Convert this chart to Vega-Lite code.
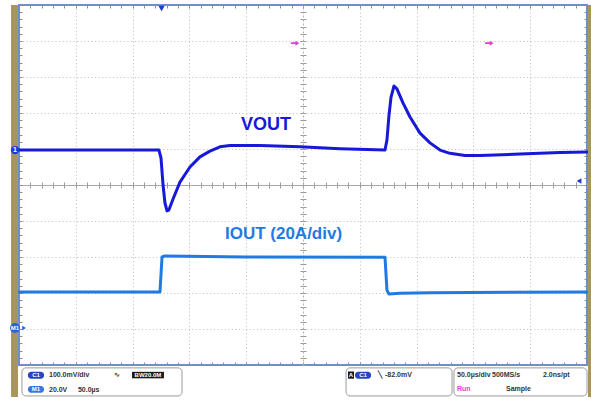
{
  "$schema": "https://vega.github.io/schema/vega-lite/v6.json",
  "width": 568,
  "height": 360,
  "autosize": {"type": "none"},
  "padding": {"left": 19, "top": 5, "right": 4, "bottom": 36},
  "background": "white",
  "config": {
    "view": {"stroke": "#6d8fd2", "strokeWidth": 2},
    "font": "Liberation Sans",
    "axis": {"labels": false, "title": null}
  },
  "datasets": {
    "waves": [
      {"s": "VOUT", "t": 0, "v": 0.97}, {"s": "VOUT", "t": 123.2, "v": 0.97}, {"s": "VOUT", "t": 125.0, "v": 0.75},
      {"s": "VOUT", "t": 126.8, "v": 0.0}, {"s": "VOUT", "t": 128.5, "v": -0.5}, {"s": "VOUT", "t": 130.3, "v": -0.72},
      {"s": "VOUT", "t": 132.0, "v": -0.69}, {"s": "VOUT", "t": 135.6, "v": -0.39}, {"s": "VOUT", "t": 141.7, "v": 0.08},
      {"s": "VOUT", "t": 150.5, "v": 0.5}, {"s": "VOUT", "t": 159.3, "v": 0.78}, {"s": "VOUT", "t": 168.1, "v": 0.94},
      {"s": "VOUT", "t": 176.9, "v": 1.06}, {"s": "VOUT", "t": 185.7, "v": 1.1}, {"s": "VOUT", "t": 212.1, "v": 1.1},
      {"s": "VOUT", "t": 247.4, "v": 1.06}, {"s": "VOUT", "t": 282.6, "v": 1.01}, {"s": "VOUT", "t": 322.2, "v": 0.97},
      {"s": "VOUT", "t": 323.9, "v": 1.25}, {"s": "VOUT", "t": 325.7, "v": 1.94}, {"s": "VOUT", "t": 327.5, "v": 2.44},
      {"s": "VOUT", "t": 330.1, "v": 2.75}, {"s": "VOUT", "t": 332.7, "v": 2.67}, {"s": "VOUT", "t": 338.0, "v": 2.28},
      {"s": "VOUT", "t": 344.2, "v": 1.89}, {"s": "VOUT", "t": 353.0, "v": 1.44}, {"s": "VOUT", "t": 361.8, "v": 1.17},
      {"s": "VOUT", "t": 370.6, "v": 0.97}, {"s": "VOUT", "t": 379.4, "v": 0.88}, {"s": "VOUT", "t": 392.6, "v": 0.82},
      {"s": "VOUT", "t": 405.8, "v": 0.82}, {"s": "VOUT", "t": 441.0, "v": 0.86}, {"s": "VOUT", "t": 476.2, "v": 0.9},
      {"s": "VOUT", "t": 500, "v": 0.92},
      {"s": "IOUT", "t": 0, "v": -2.97}, {"s": "IOUT", "t": 124.1, "v": -2.97}, {"s": "IOUT", "t": 125.9, "v": -2.0},
      {"s": "IOUT", "t": 128.5, "v": -1.97}, {"s": "IOUT", "t": 200, "v": -2.0}, {"s": "IOUT", "t": 322.2, "v": -2.01},
      {"s": "IOUT", "t": 323.9, "v": -2.92}, {"s": "IOUT", "t": 325.7, "v": -3.03}, {"s": "IOUT", "t": 335.4, "v": -3.01},
      {"s": "IOUT", "t": 361.8, "v": -2.99}, {"s": "IOUT", "t": 500, "v": -2.97}
    ],
    "labels": [
      {"s": "VOUT", "t": 195.4, "v": 1.67, "label": "VOUT"},
      {"s": "IOUT", "t": 181.3, "v": -1.36, "label": "IOUT  (20A/div)"}
    ],
    "tan": [
      {"t": -7.0, "t2": -0.9, "v": 5.0, "v2": -5.89},
      {"t": 500.9, "t2": 504, "v": 5.0, "v2": -5.89}
    ],
    "boxes": [
      {"t": 2.6, "t2": 143.5, "v": -5.08, "v2": -5.86},
      {"t": 287.9, "t2": 381.2, "v": -5.08, "v2": -5.86},
      {"t": 382.9, "t2": 500, "v": -5.08, "v2": -5.86}
    ],
    "pillsDark": [
      {"t": 7.9, "t2": 22.0, "v": -5.19, "v2": -5.38},
      {"t": 295.8, "t2": 309.9, "v": -5.19, "v2": -5.38}
    ],
    "pillsLight": [
      {"t": 7.9, "t2": 22.0, "v": -5.58, "v2": -5.77}
    ],
    "blackBoxes": [
      {"t": 99.5, "t2": 127.6, "v": -5.19, "v2": -5.37},
      {"t": 289.6, "t2": 294.9, "v": -5.18, "v2": -5.38}
    ],
    "whiteText": [
      {"t": 15, "v": -5.285, "label": "C1"},
      {"t": 302.8, "v": -5.285, "label": "C1"},
      {"t": 15, "v": -5.675, "label": "M1"},
      {"t": 113.5, "v": -5.28, "label": "BW20.0M"},
      {"t": 292.2, "v": -5.28, "label": "A"}
    ],
    "statusText": [
      {"t": 26.4, "v": -5.28, "label": "100.0mV/div"},
      {"t": 83.6, "v": -5.28, "label": "∿"},
      {"t": 26.4, "v": -5.69, "label": "20.0V"},
      {"t": 51.9, "v": -5.69, "label": "50.0µs"},
      {"t": 316.0, "v": -5.28, "label": "╲"},
      {"t": 322.2, "v": -5.28, "label": "-82.0mV"},
      {"t": 385.6, "v": -5.28, "label": "50.0µs/div"},
      {"t": 416.4, "v": -5.28, "label": "500MS/s"},
      {"t": 461.3, "v": -5.28, "label": "2.0ns/pt"},
      {"t": 428.7, "v": -5.67, "label": "Sample"}
    ],
    "runText": [
      {"t": 385.6, "v": -5.67, "label": "Run"}
    ],
    "chMarkers": [
      {"t": -3.5, "v": 0.97, "label": "1"}
    ],
    "mMarkers": [
      {"t": -3.5, "v": -3.97, "label": "M1"}
    ],
    "trigTop": [{"t": 125.5, "v": 4.9}],
    "trigLevel": [{"t": 493, "v": 0.11}],
    "mArrow": [{"t": 4.5, "v": -3.97}],
    "cursors": [{"t": 243, "v": 3.94}, {"t": 414, "v": 3.94}]
  },
  "resolve": {"axis": {"x": "independent", "y": "independent"}},
  "layer": [
    {
      "data": {"name": "waves"},
      "mark": {"type": "point", "opacity": 0},
      "encoding": {
        "x": {"field": "t", "type": "quantitative", "scale": {"domain": [0, 500], "nice": false, "zero": false},
          "axis": {"orient": "bottom", "values": [50, 100, 150, 200, 300, 350, 400, 450], "grid": true, "gridColor": "#bdbdbd", "gridDash": [1, 2.6], "gridWidth": 1, "ticks": false, "labels": false, "domain": false, "title": null}},
        "y": {"field": "v", "type": "quantitative", "scale": {"domain": [-5, 5], "nice": false, "zero": false},
          "axis": {"orient": "left", "values": [-4, -3, -2, -1, 1, 2, 3, 4], "grid": true, "gridColor": "#bdbdbd", "gridDash": [1, 2.6], "gridWidth": 1, "ticks": false, "labels": false, "domain": false, "title": null}}
      }
    },
    {
      "data": {"name": "waves"},
      "mark": {"type": "point", "opacity": 0},
      "encoding": {
        "x": {"field": "t", "type": "quantitative", "scale": {"domain": [0, 500], "nice": false, "zero": false},
          "axis": {"orient": "top", "offset": -360, "values": [0,10,20,30,40,50,60,70,80,90,100,110,120,130,140,150,160,170,180,190,200,210,220,230,240,250,260,270,280,290,300,310,320,330,340,350,360,370,380,390,400,410,420,430,440,450,460,470,480,490,500], "tickSize": 3, "tickColor": "#8c8c8c", "grid": false, "labels": false, "domain": false, "title": null}},
        "y": {"field": "v", "type": "quantitative", "scale": {"domain": [-5, 5], "nice": false, "zero": false},
          "axis": {"orient": "right", "offset": -568, "values": [-5,-4.8,-4.6,-4.4,-4.2,-4,-3.8,-3.6,-3.4,-3.2,-3,-2.8,-2.6,-2.4,-2.2,-2,-1.8,-1.6,-1.4,-1.2,-1,-0.8,-0.6,-0.4,-0.2,0,0.2,0.4,0.6,0.8,1,1.2,1.4,1.6,1.8,2,2.2,2.4,2.6,2.8,3,3.2,3.4,3.6,3.8,4,4.2,4.4,4.6,4.8,5], "tickSize": 3, "tickColor": "#8c8c8c", "grid": false, "labels": false, "domain": false, "title": null}}
      }
    },
    {
      "data": {"name": "waves"},
      "mark": {"type": "point", "opacity": 0},
      "encoding": {
        "x": {"field": "t", "type": "quantitative", "scale": {"domain": [0, 500], "nice": false, "zero": false},
          "axis": {"orient": "bottom", "offset": -360, "values": [0,10,20,30,40,50,60,70,80,90,100,110,120,130,140,150,160,170,180,190,200,210,220,230,240,250,260,270,280,290,300,310,320,330,340,350,360,370,380,390,400,410,420,430,440,450,460,470,480,490,500], "tickSize": 3, "tickColor": "#8c8c8c", "grid": false, "labels": false, "domain": false, "title": null}},
        "y": {"field": "v", "type": "quantitative", "scale": {"domain": [-5, 5], "nice": false, "zero": false},
          "axis": {"orient": "left", "offset": -568, "values": [-5,-4.8,-4.6,-4.4,-4.2,-4,-3.8,-3.6,-3.4,-3.2,-3,-2.8,-2.6,-2.4,-2.2,-2,-1.8,-1.6,-1.4,-1.2,-1,-0.8,-0.6,-0.4,-0.2,0,0.2,0.4,0.6,0.8,1,1.2,1.4,1.6,1.8,2,2.2,2.4,2.6,2.8,3,3.2,3.4,3.6,3.8,4,4.2,4.4,4.6,4.8,5], "tickSize": 3, "tickColor": "#8c8c8c", "grid": false, "labels": false, "domain": false, "title": null}}
      }
    },
    {
      "data": {"name": "waves"},
      "mark": {"type": "point", "opacity": 0},
      "encoding": {
        "x": {"field": "t", "type": "quantitative", "scale": {"domain": [0, 500], "nice": false, "zero": false},
          "axis": {"orient": "bottom", "offset": -180, "values": [0,10,20,30,40,50,60,70,80,90,100,110,120,130,140,150,160,170,180,190,200,210,220,230,240,250,260,270,280,290,300,310,320,330,340,350,360,370,380,390,400,410,420,430,440,450,460,470,480,490,500], "tickSize": 3, "tickColor": "#9a9a9a", "domain": true, "domainColor": "#a8a8a8", "domainWidth": 1, "grid": false, "labels": false, "title": null}},
        "y": {"field": "v", "type": "quantitative", "scale": {"domain": [-5, 5], "nice": false, "zero": false},
          "axis": {"orient": "left", "offset": -284, "values": [-5,-4.8,-4.6,-4.4,-4.2,-4,-3.8,-3.6,-3.4,-3.2,-3,-2.8,-2.6,-2.4,-2.2,-2,-1.8,-1.6,-1.4,-1.2,-1,-0.8,-0.6,-0.4,-0.2,0,0.2,0.4,0.6,0.8,1,1.2,1.4,1.6,1.8,2,2.2,2.4,2.6,2.8,3,3.2,3.4,3.6,3.8,4,4.2,4.4,4.6,4.8,5], "tickSize": 3, "tickColor": "#9a9a9a", "domain": true, "domainColor": "#b0b0b0", "domainDash": [2, 2], "domainWidth": 1, "grid": false, "labels": false, "title": null}}
      }
    },
    {
      "data": {"name": "waves"},
      "mark": {"type": "point", "opacity": 0},
      "encoding": {
        "x": {"field": "t", "type": "quantitative", "scale": {"domain": [0, 500], "nice": false, "zero": false},
          "axis": {"orient": "top", "offset": -180, "values": [0,10,20,30,40,50,60,70,80,90,100,110,120,130,140,150,160,170,180,190,200,210,220,230,240,250,260,270,280,290,300,310,320,330,340,350,360,370,380,390,400,410,420,430,440,450,460,470,480,490,500], "tickSize": 3, "tickColor": "#9a9a9a", "domain": false, "grid": false, "labels": false, "title": null}},
        "y": {"field": "v", "type": "quantitative", "scale": {"domain": [-5, 5], "nice": false, "zero": false},
          "axis": {"orient": "right", "offset": -284, "values": [-5,-4.8,-4.6,-4.4,-4.2,-4,-3.8,-3.6,-3.4,-3.2,-3,-2.8,-2.6,-2.4,-2.2,-2,-1.8,-1.6,-1.4,-1.2,-1,-0.8,-0.6,-0.4,-0.2,0,0.2,0.4,0.6,0.8,1,1.2,1.4,1.6,1.8,2,2.2,2.4,2.6,2.8,3,3.2,3.4,3.6,3.8,4,4.2,4.4,4.6,4.8,5], "tickSize": 3, "tickColor": "#9a9a9a", "domain": false, "grid": false, "labels": false, "title": null}}
      }
    },
    {
      "data": {"name": "waves"},
      "mark": {"type": "line", "strokeWidth": 3, "strokeJoin": "round", "strokeCap": "round"},
      "encoding": {
        "x": {"field": "t", "type": "quantitative", "scale": {"domain": [0, 500], "nice": false, "zero": false}, "axis": null},
        "y": {"field": "v", "type": "quantitative", "scale": {"domain": [-5, 5], "nice": false, "zero": false}, "axis": null},
        "color": {"field": "s", "type": "nominal", "scale": {"domain": ["VOUT", "IOUT"], "range": ["#1818d8", "#1e7be4"]}, "legend": null}
      }
    },
    {
      "data": {"name": "labels"},
      "transform": [{"filter": "datum.s === 'VOUT'"}],
      "mark": {"type": "text", "align": "left", "baseline": "middle", "fontSize": 18, "fontWeight": "bold", "font": "Liberation Sans"},
      "encoding": {
        "x": {"field": "t", "type": "quantitative", "scale": {"domain": [0, 500], "nice": false, "zero": false}, "axis": null},
        "y": {"field": "v", "type": "quantitative", "scale": {"domain": [-5, 5], "nice": false, "zero": false}, "axis": null},
        "text": {"field": "label"},
        "color": {"field": "s", "type": "nominal", "scale": {"domain": ["VOUT", "IOUT"], "range": ["#1818d8", "#1e7be4"]}, "legend": null}
      }
    },
    {
      "data": {"name": "labels"},
      "transform": [{"filter": "datum.s === 'IOUT'"}],
      "mark": {"type": "text", "align": "left", "baseline": "middle", "fontSize": 17, "fontWeight": "bold", "font": "Liberation Sans"},
      "encoding": {
        "x": {"field": "t", "type": "quantitative", "scale": {"domain": [0, 500], "nice": false, "zero": false}, "axis": null},
        "y": {"field": "v", "type": "quantitative", "scale": {"domain": [-5, 5], "nice": false, "zero": false}, "axis": null},
        "text": {"field": "label"},
        "color": {"field": "s", "type": "nominal", "scale": {"domain": ["VOUT", "IOUT"], "range": ["#1818d8", "#1e7be4"]}, "legend": null}
      }
    },
    {
      "data": {"name": "tan"},
      "mark": {"type": "rect", "fill": "#a8955e"},
      "encoding": {
        "x": {"field": "t", "type": "quantitative", "scale": {"domain": [0, 500], "nice": false, "zero": false}, "axis": null},
        "x2": {"field": "t2"},
        "y": {"field": "v", "type": "quantitative", "scale": {"domain": [-5, 5], "nice": false, "zero": false}, "axis": null},
        "y2": {"field": "v2"}
      }
    },
    {
      "data": {"name": "boxes"},
      "mark": {"type": "rect", "fill": "white", "stroke": "#9a9a9a", "strokeWidth": 1, "cornerRadius": 4},
      "encoding": {
        "x": {"field": "t", "type": "quantitative", "scale": {"domain": [0, 500], "nice": false, "zero": false}, "axis": null},
        "x2": {"field": "t2"},
        "y": {"field": "v", "type": "quantitative", "scale": {"domain": [-5, 5], "nice": false, "zero": false}, "axis": null},
        "y2": {"field": "v2"}
      }
    },
    {
      "data": {"name": "pillsDark"},
      "mark": {"type": "rect", "fill": "#2a45bd", "cornerRadius": 3},
      "encoding": {
        "x": {"field": "t", "type": "quantitative", "scale": {"domain": [0, 500], "nice": false, "zero": false}, "axis": null},
        "x2": {"field": "t2"},
        "y": {"field": "v", "type": "quantitative", "scale": {"domain": [-5, 5], "nice": false, "zero": false}, "axis": null},
        "y2": {"field": "v2"}
      }
    },
    {
      "data": {"name": "pillsLight"},
      "mark": {"type": "rect", "fill": "#3a74dc", "cornerRadius": 3},
      "encoding": {
        "x": {"field": "t", "type": "quantitative", "scale": {"domain": [0, 500], "nice": false, "zero": false}, "axis": null},
        "x2": {"field": "t2"},
        "y": {"field": "v", "type": "quantitative", "scale": {"domain": [-5, 5], "nice": false, "zero": false}, "axis": null},
        "y2": {"field": "v2"}
      }
    },
    {
      "data": {"name": "blackBoxes"},
      "mark": {"type": "rect", "fill": "#1a1a1a"},
      "encoding": {
        "x": {"field": "t", "type": "quantitative", "scale": {"domain": [0, 500], "nice": false, "zero": false}, "axis": null},
        "x2": {"field": "t2"},
        "y": {"field": "v", "type": "quantitative", "scale": {"domain": [-5, 5], "nice": false, "zero": false}, "axis": null},
        "y2": {"field": "v2"}
      }
    },
    {
      "data": {"name": "whiteText"},
      "mark": {"type": "text", "align": "center", "baseline": "middle", "fontSize": 6, "fontWeight": "bold", "fill": "white", "font": "Liberation Sans"},
      "encoding": {
        "x": {"field": "t", "type": "quantitative", "scale": {"domain": [0, 500], "nice": false, "zero": false}, "axis": null},
        "y": {"field": "v", "type": "quantitative", "scale": {"domain": [-5, 5], "nice": false, "zero": false}, "axis": null},
        "text": {"field": "label"}
      }
    },
    {
      "data": {"name": "statusText"},
      "mark": {"type": "text", "align": "left", "baseline": "middle", "fontSize": 7, "fontWeight": "bold", "fill": "#333333", "font": "Liberation Sans"},
      "encoding": {
        "x": {"field": "t", "type": "quantitative", "scale": {"domain": [0, 500], "nice": false, "zero": false}, "axis": null},
        "y": {"field": "v", "type": "quantitative", "scale": {"domain": [-5, 5], "nice": false, "zero": false}, "axis": null},
        "text": {"field": "label"}
      }
    },
    {
      "data": {"name": "runText"},
      "mark": {"type": "text", "align": "left", "baseline": "middle", "fontSize": 7, "fontWeight": "bold", "fill": "#e040d0", "font": "Liberation Sans"},
      "encoding": {
        "x": {"field": "t", "type": "quantitative", "scale": {"domain": [0, 500], "nice": false, "zero": false}, "axis": null},
        "y": {"field": "v", "type": "quantitative", "scale": {"domain": [-5, 5], "nice": false, "zero": false}, "axis": null},
        "text": {"field": "label"}
      }
    },
    {
      "data": {"name": "chMarkers"},
      "mark": {"type": "point", "shape": "circle", "filled": true, "size": 70, "fill": "#1c3ad6", "opacity": 1},
      "encoding": {
        "x": {"field": "t", "type": "quantitative", "scale": {"domain": [0, 500], "nice": false, "zero": false}, "axis": null},
        "y": {"field": "v", "type": "quantitative", "scale": {"domain": [-5, 5], "nice": false, "zero": false}, "axis": null}
      }
    },
    {
      "data": {"name": "mMarkers"},
      "mark": {"type": "point", "shape": "circle", "filled": true, "size": 100, "fill": "#2c62d8", "opacity": 1},
      "encoding": {
        "x": {"field": "t", "type": "quantitative", "scale": {"domain": [0, 500], "nice": false, "zero": false}, "axis": null},
        "y": {"field": "v", "type": "quantitative", "scale": {"domain": [-5, 5], "nice": false, "zero": false}, "axis": null}
      }
    },
    {
      "data": {"name": "mArrow"},
      "mark": {"type": "point", "shape": "triangle-right", "filled": true, "size": 20, "fill": "#2c62d8", "opacity": 1},
      "encoding": {
        "x": {"field": "t", "type": "quantitative", "scale": {"domain": [0, 500], "nice": false, "zero": false}, "axis": null},
        "y": {"field": "v", "type": "quantitative", "scale": {"domain": [-5, 5], "nice": false, "zero": false}, "axis": null}
      }
    },
    {
      "data": {"name": "chMarkers"},
      "mark": {"type": "text", "align": "center", "baseline": "middle", "fontSize": 7, "fontWeight": "bold", "fill": "white", "font": "Liberation Sans"},
      "encoding": {
        "x": {"field": "t", "type": "quantitative", "scale": {"domain": [0, 500], "nice": false, "zero": false}, "axis": null},
        "y": {"field": "v", "type": "quantitative", "scale": {"domain": [-5, 5], "nice": false, "zero": false}, "axis": null},
        "text": {"field": "label"}
      }
    },
    {
      "data": {"name": "mMarkers"},
      "mark": {"type": "text", "align": "center", "baseline": "middle", "fontSize": 6, "fontWeight": "bold", "fill": "white", "font": "Liberation Sans"},
      "encoding": {
        "x": {"field": "t", "type": "quantitative", "scale": {"domain": [0, 500], "nice": false, "zero": false}, "axis": null},
        "y": {"field": "v", "type": "quantitative", "scale": {"domain": [-5, 5], "nice": false, "zero": false}, "axis": null},
        "text": {"field": "label"}
      }
    },
    {
      "data": {"name": "trigTop"},
      "mark": {"type": "point", "shape": "triangle-down", "filled": true, "size": 40, "fill": "#1c3ad6", "opacity": 1},
      "encoding": {
        "x": {"field": "t", "type": "quantitative", "scale": {"domain": [0, 500], "nice": false, "zero": false}, "axis": null},
        "y": {"field": "v", "type": "quantitative", "scale": {"domain": [-5, 5], "nice": false, "zero": false}, "axis": null}
      }
    },
    {
      "data": {"name": "trigLevel"},
      "mark": {"type": "point", "shape": "triangle-left", "filled": true, "size": 30, "fill": "#1c3ad6", "opacity": 1},
      "encoding": {
        "x": {"field": "t", "type": "quantitative", "scale": {"domain": [0, 500], "nice": false, "zero": false}, "axis": null},
        "y": {"field": "v", "type": "quantitative", "scale": {"domain": [-5, 5], "nice": false, "zero": false}, "axis": null}
      }
    },
    {
      "data": {"name": "cursors"},
      "mark": {"type": "point", "shape": "M-1,-0.2H0.1V-0.6L1,0L0.1,0.6V0.2H-1Z", "filled": true, "size": 70, "fill": "#e040c8", "opacity": 1},
      "encoding": {
        "x": {"field": "t", "type": "quantitative", "scale": {"domain": [0, 500], "nice": false, "zero": false}, "axis": null},
        "y": {"field": "v", "type": "quantitative", "scale": {"domain": [-5, 5], "nice": false, "zero": false}, "axis": null}
      }
    }
  ]
}
